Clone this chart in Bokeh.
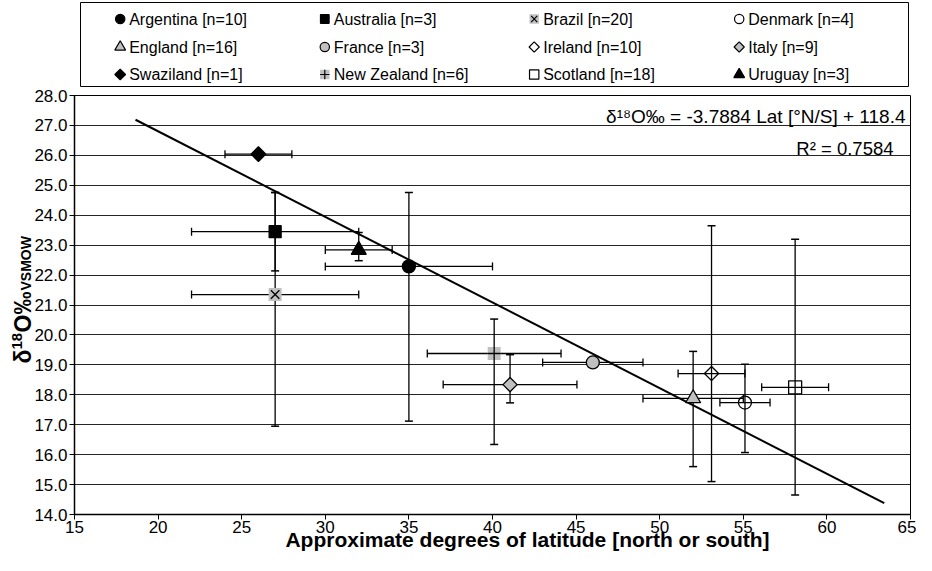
import math
from bokeh.plotting import figure
from bokeh.models import (ColumnDataSource, Range1d, FixedTicker, PrintfTickFormatter,
                          Whisker, TeeHead, Label)
from bokeh.layouts import column
from bokeh.embed import file_html
from bokeh.resources import INLINE
from bokeh.core.properties import value

# ---------------- data ----------------
countries = ["Argentina", "Australia", "Brazil", "Denmark", "England", "France",
             "Ireland", "Italy", "Swaziland", "New Zealand", "Scotland", "Uruguay"]
n_samples = [10, 3, 20, 4, 16, 3, 10, 9, 1, 6, 18, 3]
latitude = [35.0, 27.0, 27.0, 55.1, 52.0, 46.0, 53.1, 41.05, 26.0, 40.1, 58.1, 32.0]
d18O = [22.29, 23.45, 21.35, 17.74, 17.88, 19.08, 18.71, 18.34, 26.04, 19.38, 18.25, 22.84]
lat_err = [5.0, 5.0, 5.0, 1.5, 3.0, 3.0, 2.0, 4.0, 2.0, 4.0, 2.0, 2.0]
d18O_low = [17.12, 22.14, 16.95, 16.07, 15.6, None, 15.1, 17.73, None, 16.34, 14.65, 22.48]
d18O_high = [24.76, 24.76, 24.76, 19.02, 19.45, None, 23.65, 19.34, None, 20.53, 23.2, 23.42]

trend_lat = [18.65, 63.43]
trend_d18O = [27.19, 14.38]

y_ticks = [14, 15, 16, 17, 18, 19, 20, 21, 22, 23, 24, 25, 26, 27, 28]
x_ticks = [15, 20, 25, 30, 35, 40, 45, 50, 55, 60, 65]

equation_text = "δ¹⁸O‰ = -3.7884 Lat [°N/S] + 118.4"
r2_text = "R² = 0.7584"
x_title = "Approximate degrees of latitude [north or south]"
y_title_parts = ["δ", "18", "O‰", "VSMOW"]

GRAY = "#c0c0c0"
FONT = "Liberation Sans"


def styles(name, big=True):
    k = 1.0 if big else 0.72
    S = lambda s: s * k
    m = {
        "Argentina": [("circle", S(13), "black", "black", 0)],
        "Australia": [("square", S(12), "black", "black", 0)],
        "Brazil": [("square", S(13), GRAY, None, 0), ("x", S(12), None, "black", 0)],
        "Denmark": [("circle", S(13), None, "black", 0)],
        "England": [("triangle", S(15), GRAY, "black", 0)],
        "France": [("circle", S(13), GRAY, "black", 0)],
        "Ireland": [("square", S(10), None, "black", math.pi / 4)],
        "Italy": [("square", S(10), GRAY, "black", math.pi / 4)],
        "Swaziland": [("square", S(10.5), "black", "black", math.pi / 4)],
        "New Zealand": [("square", S(13), GRAY, None, 0), ("cross", S(13), None, "black", 0)],
        "Scotland": [("square", S(13), None, "black", 0)],
        "Uruguay": [("triangle", S(15), "black", "black", 0)],
    }
    return m[name]


# ---------------- geometry (page px) ----------------
W = 916
FX0, FX1 = 82, 918      # frame left/right on page
FY0, FY1 = 103, 522     # frame top/bottom on page
LEG_H = 87
MAIN_TOP = 8 + LEG_H
MAIN_BOTTOM = 563
main_h = MAIN_BOTTOM - MAIN_TOP


def dx(px):
    return 15 + (px - FX0) * 50.0 / (FX1 - FX0)


def dy(py):
    return 28 - (py - FY0) * 14.0 / (FY1 - FY0)


p = figure(width=W, height=main_h, output_backend="svg", toolbar_location=None,
           x_range=Range1d(15, 65), y_range=Range1d(14, 28), frame_align=False,
           min_border_left=FX0 - 8, min_border_right=W + 8 - FX1,
           min_border_top=FY0 - MAIN_TOP, min_border_bottom=MAIN_BOTTOM - FY1)
p.outline_line_color = "black"
p.outline_line_width = 1
p.background_fill_color = "white"
p.border_fill_color = "white"
p.xgrid.visible = False
p.ygrid.grid_line_color = "black"
p.ygrid.grid_line_alpha = 0.85
p.ygrid.grid_line_width = 1
p.yaxis.ticker = FixedTicker(ticks=y_ticks)
p.yaxis.formatter = PrintfTickFormatter(format="%.1f")
p.xaxis.ticker = FixedTicker(ticks=x_ticks)
for ax in (p.xaxis, p.yaxis):
    ax.axis_line_color = "black"
    ax.axis_line_width = 1.5
    ax.major_tick_line_color = "black"
    ax.major_tick_out = 5
    ax.major_tick_in = 0
    ax.minor_tick_line_color = None
    ax.major_label_text_font = FONT
    ax.major_label_text_font_size = "17px"
    ax.major_label_text_color = "black"
p.xaxis.major_label_standoff = 1
p.yaxis.major_label_standoff = 2
# x title, shifted right of the frame centre as in the reference
p.xaxis.axis_label = "\u00a0" * 12 + x_title
p.xaxis.axis_label_text_font = FONT
p.xaxis.axis_label_text_font_size = "21px"
p.xaxis.axis_label_text_font_style = "bold"
p.xaxis.axis_label_text_color = "black"
p.xaxis.axis_label_standoff = -8

# regression line
p.line(trend_lat, trend_d18O, line_color="black", line_width=2)

# error bars
idx_y = [i for i in range(len(countries)) if d18O_low[i] is not None]
src_y = ColumnDataSource(dict(x=[latitude[i] for i in idx_y],
                              lo=[d18O_low[i] for i in idx_y],
                              hi=[d18O_high[i] for i in idx_y]))
src_x = ColumnDataSource(dict(y=d18O,
                              lo=[latitude[i] - lat_err[i] for i in range(len(countries))],
                              hi=[latitude[i] + lat_err[i] for i in range(len(countries))]))
wy = Whisker(source=src_y, base="x", lower="lo", upper="hi", dimension="height",
             line_color="black", line_width=1.3,
             upper_head=TeeHead(size=8, line_color="black", line_width=1.5),
             lower_head=TeeHead(size=8, line_color="black", line_width=1.5))
wx = Whisker(source=src_x, base="y", lower="lo", upper="hi", dimension="width",
             line_color="black", line_width=1.3,
             upper_head=TeeHead(size=8, line_color="black", line_width=1.3),
             lower_head=TeeHead(size=8, line_color="black", line_width=1.3))
p.add_layout(wy)
p.add_layout(wx)

# markers
for i, c in enumerate(countries):
    for (mk, sz, fc, lc, ang) in styles(c, True):
        p.scatter([latitude[i]], [d18O[i]], marker=mk, size=sz, angle=ang,
                  fill_color=fc if fc else "white", fill_alpha=1 if fc else 0,
                  line_color=lc, line_width=1.3 if lc else 0, line_alpha=1 if lc else 0)

# equation labels
p.add_layout(Label(x=dx(913), y=dy(124), text=equation_text, text_align="right",
                   text_baseline="alphabetic", text_font=FONT, text_font_size="19px",
                   text_color="black"))
p.add_layout(Label(x=dx(901), y=dy(156), text=r2_text, text_align="right",
                   text_baseline="alphabetic", text_font=FONT, text_font_size="18.5px",
                   text_color="black"))

# ---------------- transparent overlay carrying the y-axis title ----------------
ov = figure(width=W, height=main_h, output_backend="svg", toolbar_location=None,
            x_range=Range1d(0, W), y_range=Range1d(0, main_h), frame_align=False,
            x_axis_location=None, y_axis_location=None,
            min_border_left=0, min_border_right=0, min_border_top=0, min_border_bottom=0,
            margin=(-main_h, 0, 0, 0))
ov.grid.visible = False
ov.outline_line_color = None
ov.border_fill_color = None
ov.background_fill_color = None


def ox(px):
    return px - 8


def oy(py):
    return MAIN_BOTTOM - py


# y title pieces: (text, baseline page x, start page y, font size)
pieces = [(y_title_parts[0], 30, 371, "23px"),
          (y_title_parts[1], 24, 357, "15px"),
          (y_title_parts[2], 30, 340, "23px"),
          (y_title_parts[3], 33, 298, "14px")]
for (t, bx, sy, fs) in pieces:
    ov.text(x=[ox(bx)], y=[oy(sy)], text=[t], angle=math.pi / 2,
            text_font=value(FONT), text_font_size=fs, text_font_style="bold",
            text_align="left", text_baseline="alphabetic", text_color="black")

# ---------------- legend figure ----------------
LX0, LX1 = 88, 916
LY0, LY1 = 10, 95
leg = figure(width=W, height=LEG_H, output_backend="svg", toolbar_location=None,
             x_range=Range1d(0, LX1 - LX0), y_range=Range1d(0, LY1 - LY0), frame_align=False,
             x_axis_location=None, y_axis_location=None,
             min_border_left=LX0 - 8, min_border_right=W + 8 - LX1,
             min_border_top=LY0 - 8, min_border_bottom=LEG_H - (LY1 - 8))
leg.grid.visible = False
leg.outline_line_color = "black"
leg.outline_line_width = 1
leg.border_fill_color = "white"

col_marker_px = [127.7, 332.3, 541.7, 746.7]
row_center_px = [26.5, 54.5, 82.0]
leg_x, leg_y, leg_txt = [], [], []
for i, c in enumerate(countries):
    r, ci = divmod(i, 4)
    mx = col_marker_px[ci] - LX0
    my = (LY1 - LY0) - (row_center_px[r] - LY0)
    for (mk, sz, fc, lc, a) in styles(c, False):
        leg.scatter([mx], [my], marker=mk, size=sz, angle=a,
                    fill_color=fc if fc else "white", fill_alpha=1 if fc else 0,
                    line_color=lc, line_width=1.2 if lc else 0, line_alpha=1 if lc else 0)
    leg_x.append(mx + 9)
    leg_y.append(my)
    leg_txt.append(f"{c} [n={n_samples[i]}]")
leg.text(x=leg_x, y=leg_y, text=leg_txt, text_font=value(FONT), text_font_size="16px",
         text_baseline="middle", text_align="left", text_color="black")

layout = column(leg, p, ov, spacing=0)
open("out.html", "w").write(file_html(layout, INLINE))
